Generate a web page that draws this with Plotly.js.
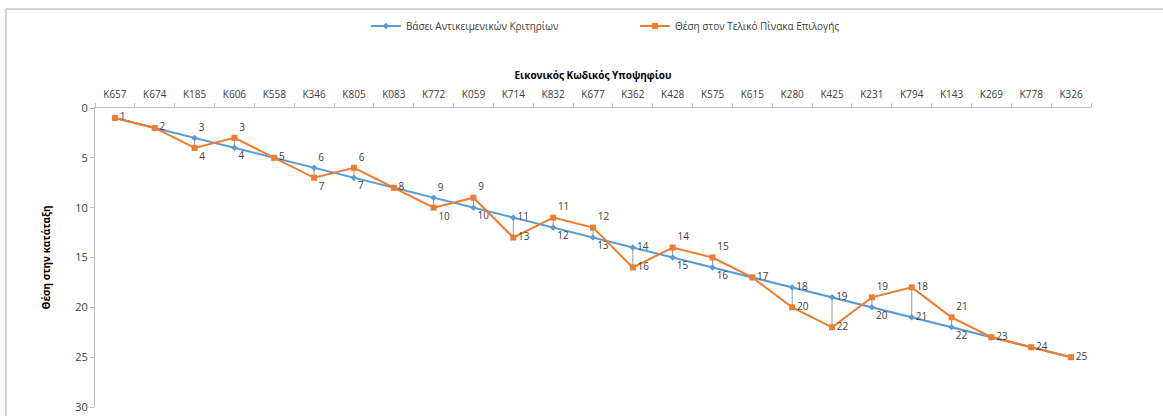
<!DOCTYPE html>
<html>
<head>
<meta charset="utf-8">
<script src="https://cdn.plot.ly/plotly-3.0.1.min.js"></script>
<style>html,body{margin:0;padding:0;background:#fff;}#chart{width:1163px;height:416px;}</style>
</head>
<body>
<div id="chart"></div>
<script>
const categories = ["K657","K674","K185","K606","K558","K346","K805","K083","K772","K059","K714","K832","K677","K362","K428","K575","K615","K280","K425","K231","K794","K143","K269","K778","K326"];
const objectiveRank = [1,2,3,4,5,6,7,8,9,10,11,12,13,14,15,16,17,18,19,20,21,22,23,24,25];
const finalRank = [1,2,4,3,5,7,6,8,10,9,13,11,12,16,14,15,17,20,22,19,18,21,23,24,25];
const seriesNames = ["Βάσει Αντικειμενικών Κριτηρίων","Θέση στον Τελικό Πίνακα Επιλογής"];
const xTitle = "Εικονικός Κωδικός Υποψηφίου";
const yTitle = "Θέση στην κατάταξη";

const FONT = "Open Sans, Noto Sans, sans-serif";
const blue = "#5B9BD5", orange = "#ED7D31";

// high-low drop lines between the two series
const dx = [], dy = [];
categories.forEach((c, i) => {
  if (objectiveRank[i] !== finalRank[i]) { dx.push(c, c, null); dy.push(objectiveRank[i], finalRank[i], null); }
});
// where both series coincide only one label is shown
const blueText = objectiveRank.map((v, i) => v === finalRank[i] ? "" : String(v));
// labels of points one rank apart are nudged apart vertically
function pos(a, b) { return Math.abs(a - b) === 1 ? (a < b ? "top right" : "bottom right") : "middle right"; }
const bluePos = objectiveRank.map((v, i) => pos(v, finalRank[i]));
const orangePos = finalRank.map((v, i) => pos(v, objectiveRank[i]));

const traces = [
  {x: dx, y: dy, mode: "lines", line: {color: "#7f7f7f", width: 0.8}, showlegend: false, hoverinfo: "skip", connectgaps: false},
  {x: categories, y: objectiveRank, name: seriesNames[0], mode: "lines+markers+text",
   line: {color: blue, width: 2}, marker: {symbol: "diamond", size: 5, color: blue},
   text: blueText, textposition: bluePos, textfont: {family: FONT, size: 10, color: "#404040"}, cliponaxis: false},
  {x: categories, y: finalRank, name: seriesNames[1], mode: "lines+markers+text",
   line: {color: orange, width: 2}, marker: {symbol: "square", size: 6, color: orange},
   text: finalRank.map(String), textposition: orangePos, textfont: {family: FONT, size: 10, color: "#404040"}, cliponaxis: false}
];

const layout = {
  width: 1163, height: 416,
  margin: {l: 95, r: 72, t: 108, b: 9},
  paper_bgcolor: "#fff", plot_bgcolor: "#fff",
  font: {family: FONT, size: 10, color: "#404040"},
  showlegend: true,
  legend: {orientation: "h", x: 0.272, xanchor: "left", y: 1.274, yanchor: "middle", entrywidth: 224, entrywidthmode: "pixels",
    font: {family: FONT, size: 10, color: "#404040"}, itemwidth: 30},
  xaxis: {type: "category", categoryorder: "array", categoryarray: categories, side: "top", showgrid: false, zeroline: false, showline: true, linecolor: "#bfbfbf", linewidth: 1,
    ticks: "outside", tickson: "boundaries", ticklen: 4, tickcolor: "#bfbfbf", ticklabelstandoff: 5, tickfont: {family: FONT, size: 10, color: "#404040"},
    title: {text: "<b>" + xTitle + "</b>", font: {family: FONT, size: 10, color: "#000"}, standoff: 5}, range: [-0.5, categories.length - 0.5]},
  yaxis: {range: [30, 0], dtick: 5, showgrid: false, zeroline: false, showline: true, linecolor: "#bfbfbf", linewidth: 1,
    ticks: "outside", ticklen: 4, tickcolor: "#bfbfbf", tickfont: {family: FONT, size: 11, color: "#404040"},
    title: {text: "<b>" + yTitle + "</b>", font: {family: FONT, size: 10, color: "#000"}, standoff: 22}},
  shapes: [
    {type: "line", xref: "paper", yref: "paper", x0: -0.0894, x1: -0.0894, y0: -0.05, y1: 1.331, line: {color: "#a6a6a6", width: 1}},
    {type: "line", xref: "paper", yref: "paper", x0: -0.0894, x1: 1.08, y0: 1.331, y1: 1.331, line: {color: "#a6a6a6", width: 1}}
  ]
};

Plotly.newPlot("chart", traces, layout, {staticPlot: true, displayModeBar: false});
</script>
</body>
</html>
